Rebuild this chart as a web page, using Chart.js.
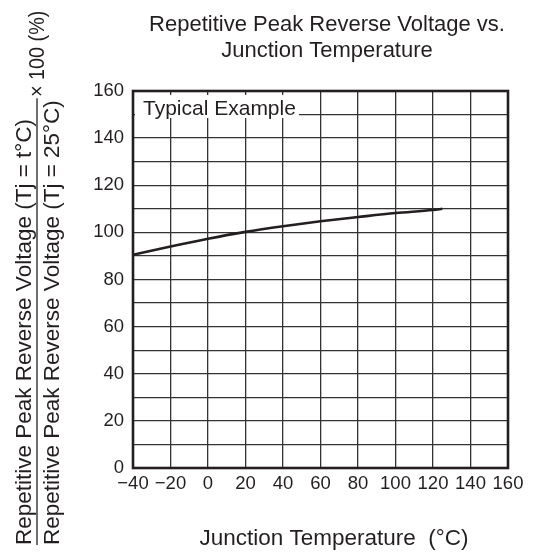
<!DOCTYPE html>
<html>
<head>
<meta charset="utf-8">
<script src="https://cdn.jsdelivr.net/npm/chart.js@4"></script>
<style>
html,body{margin:0;padding:0;background:#fff;}
#wrap{width:537px;height:555px;position:relative;}
</style>
</head>
<body>
<div id="wrap"><canvas id="c" width="537" height="555"></canvas></div>
<script>
// Data
const temperatures = [-40, -20, 0, 20, 40, 60, 80, 100, 120, 125];
const voltageRatio = [90.5, 94, 97.3, 100.2, 102.6, 104.7, 106.5, 108.2, 109.5, 110];
const xTicks = [-40, -20, 0, 20, 40, 60, 80, 100, 120, 140, 160];
const yTicks = [0, 20, 40, 60, 80, 100, 120, 140, 160];

const titleLines = ['Repetitive Peak Reverse Voltage vs.', 'Junction Temperature'];
const xTitle = 'Junction Temperature  (°C)';
const yNumerator = 'Repetitive Peak Reverse Voltage (Tj = t°C)';
const yDenominator = 'Repetitive Peak Reverse Voltage (Tj = 25°C)';
const yFactor = '× 100 (%)';
const noteText = 'Typical Example';

const FONT = '"Liberation Sans", Arial, sans-serif';
const INK = '#231f20';
const fmt = v => (v < 0 ? '\u2212' + Math.abs(v) : String(v));

const decor = {
  id: 'decor',
  afterDatasetsDraw(chart) {
    const ctx = chart.ctx, a = chart.chartArea;
    ctx.save();
    // note box
    ctx.fillStyle = '#fff';
    ctx.fillRect(a.left + 2, a.top + 4, 164, 23);
    ctx.fillStyle = INK;
    ctx.font = '21px ' + FONT;
    ctx.textBaseline = 'alphabetic';
    ctx.textAlign = 'left';
    ctx.fillText(noteText, a.left + 10, a.top + 24);
    // frame
    ctx.strokeStyle = INK;
    ctx.lineWidth = 2.6;
    ctx.strokeRect(a.left, a.top, a.right - a.left, a.bottom - a.top);
    ctx.restore();
  },
  afterDraw(chart) {
    const ctx = chart.ctx;
    ctx.save();
    ctx.fillStyle = INK;
    // main title
    ctx.font = '22px ' + FONT;
    ctx.textAlign = 'center';
    ctx.textBaseline = 'alphabetic';
    ctx.fillText(titleLines[0], 327, 31);
    ctx.fillText(titleLines[1], 327, 57);
    // x title
    ctx.font = '22.5px ' + FONT;
    ctx.fillText(xTitle, 334, 545);
    // y title (rotated fraction)
    ctx.translate(0, 545);
    ctx.rotate(-Math.PI / 2);
    ctx.textAlign = 'left';
    ctx.font = '22.5px ' + FONT;
    ctx.fillText(yNumerator, 0, 31);
    ctx.fillText(yDenominator, 0, 59);
    const w = Math.max(ctx.measureText(yNumerator).width, ctx.measureText(yDenominator).width);
    ctx.strokeStyle = INK;
    ctx.lineWidth = 1.3;
    ctx.beginPath();
    ctx.moveTo(0, 37);
    ctx.lineTo(w + 2, 37);
    ctx.stroke();
    ctx.font = '22px ' + FONT;
    ctx.textBaseline = 'middle';
    ctx.translate(448, 38);
    ctx.scale(0.9, 1);
    ctx.fillText(yFactor, 0, 0);
    ctx.restore();
  }
};

new Chart(document.getElementById('c'), {
  type: 'line',
  data: {
    datasets: [{
      data: temperatures.map((t, i) => ({ x: t, y: voltageRatio[i] })),
      borderColor: INK,
      borderWidth: 2.6,
      pointRadius: 0,
      fill: false,
      cubicInterpolationMode: 'monotone'
    }]
  },
  options: {
    responsive: false,
    animation: false,
    layout: { padding: { left: 0, top: 91, right: 29, bottom: 0 } },
    plugins: { legend: { display: false }, title: { display: false }, tooltip: { enabled: false } },
    scales: {
      x: {
        type: 'linear', min: xTicks[0], max: xTicks[xTicks.length - 1],
        afterBuildTicks: s => { s.ticks = xTicks.map(v => ({ value: v })); },
        afterFit: s => { s.height = 87; },
        ticks: { callback: v => fmt(v), color: INK, font: { family: FONT, size: 18.5 }, padding: 5, maxRotation: 0, autoSkip: false },
        grid: { color: '#333333', lineWidth: 1.3, drawTicks: false },
        border: { display: false }
      },
      y: {
        min: yTicks[0], max: yTicks[yTicks.length - 1],
        ticks: { stepSize: 10, callback: v => (yTicks.includes(v) ? fmt(v) : ''), color: INK, font: { family: FONT, size: 18.5 }, padding: 9, autoSkip: false },
        afterFit: s => { s.width = 133; },
        grid: { color: '#333333', lineWidth: 1.3, drawTicks: false },
        border: { display: false }
      }
    }
  },
  plugins: [decor]
});
</script>
</body>
</html>
